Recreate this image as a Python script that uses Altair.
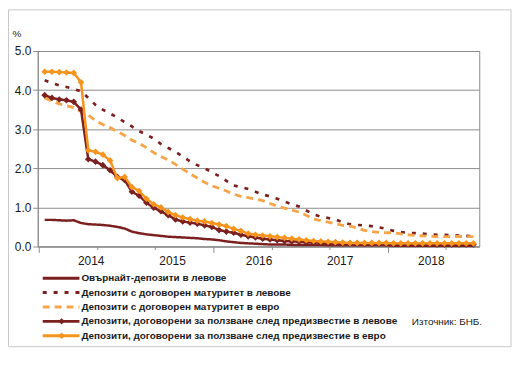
import altair as alt
import pandas as pd

series_names = [
    "Овърнайт-депозити в левове",
    "Депозити с договорен матуритет в левове",
    "Депозити с договорен матуритет в евро",
    "Депозити, договорени за ползване след предизвестие в левове",
    "Депозити, договорени за ползване след предизвестие в евро",
]
colors = ["#7b1f1f", "#7b1f1f", "#f7a548", "#7b1f1f", "#f7941d"]
dashes = [[1, 0], [4, 7], [7, 5], [1, 0], [1, 0]]
widths = [2.5, 3.2, 3.2, 2.5, 2.5]

# monthly observations, Jan 2014 - Dec 2018 (index 0..59)
overnight_bgn = [0.68, 0.68, 0.67, 0.66, 0.67, 0.60, 0.57, 0.56, 0.55, 0.53, 0.50, 0.46,
                 0.38, 0.34, 0.31, 0.29, 0.27, 0.25, 0.24, 0.23, 0.22, 0.21, 0.19, 0.18,
                 0.16, 0.13, 0.11, 0.09, 0.08, 0.07, 0.06, 0.05, 0.05, 0.05, 0.04, 0.04,
                 0.04, 0.04, 0.04, 0.03, 0.03, 0.03, 0.03, 0.03, 0.03, 0.03, 0.03, 0.03,
                 0.02, 0.02, 0.02, 0.02, 0.02, 0.02, 0.02, 0.02, 0.02, 0.02, 0.02, 0.02]
term_bgn = [4.25, 4.18, 4.12, 4.08, 4.03, 3.97, 3.80, 3.62, 3.50, 3.40, 3.30, 3.18,
            3.07, 2.95, 2.86, 2.76, 2.62, 2.52, 2.42, 2.30, 2.18, 2.08, 2.00, 1.90,
            1.80, 1.68, 1.56, 1.52, 1.47, 1.40, 1.33, 1.28, 1.22, 1.15, 1.08, 1.02,
            0.92, 0.82, 0.76, 0.73, 0.69, 0.62, 0.57, 0.55, 0.54, 0.52, 0.49, 0.45,
            0.40, 0.37, 0.35, 0.34, 0.33, 0.31, 0.30, 0.30, 0.29, 0.28, 0.27, 0.26]
term_eur = [3.80, 3.72, 3.65, 3.60, 3.55, 3.45, 3.36, 3.22, 3.12, 3.04, 2.94, 2.84,
            2.72, 2.64, 2.53, 2.40, 2.30, 2.21, 2.10, 1.98, 1.86, 1.75, 1.64, 1.55,
            1.49, 1.42, 1.34, 1.28, 1.25, 1.21, 1.17, 1.10, 1.03, 0.98, 0.93, 0.88,
            0.80, 0.70, 0.66, 0.62, 0.58, 0.54, 0.52, 0.47, 0.41, 0.38, 0.36, 0.35,
            0.35, 0.32, 0.30, 0.28, 0.27, 0.26, 0.25, 0.25, 0.25, 0.26, 0.25, 0.25]
notice_bgn = [3.87, 3.80, 3.76, 3.74, 3.70, 3.50, 2.23, 2.17, 2.08, 1.95, 1.78, 1.70,
              1.40, 1.30, 1.12, 0.99, 0.90, 0.80, 0.69, 0.64, 0.61, 0.58, 0.54, 0.50,
              0.42, 0.38, 0.35, 0.30, 0.26, 0.23, 0.20, 0.18, 0.16, 0.14, 0.13, 0.12,
              0.11, 0.10, 0.10, 0.09, 0.09, 0.08, 0.08, 0.08, 0.07, 0.07, 0.07, 0.07,
              0.06, 0.06, 0.06, 0.06, 0.06, 0.06, 0.05, 0.05, 0.05, 0.05, 0.05, 0.05]
notice_eur = [4.47, 4.47, 4.46, 4.45, 4.44, 4.20, 2.46, 2.42, 2.35, 2.20, 1.75, 1.78,
              1.52, 1.42, 1.22, 1.08, 1.00, 0.88, 0.80, 0.74, 0.70, 0.66, 0.64, 0.60,
              0.56, 0.52, 0.45, 0.40, 0.33, 0.30, 0.28, 0.26, 0.24, 0.22, 0.20, 0.18,
              0.16, 0.14, 0.13, 0.12, 0.11, 0.10, 0.09, 0.09, 0.09, 0.09, 0.09, 0.09,
              0.08, 0.08, 0.08, 0.08, 0.08, 0.08, 0.08, 0.08, 0.08, 0.08, 0.08, 0.08]

year_labels = ["2014", "2015", "2016", "2017", "2018"]
year_label_pos = [6.4, 17.6, 29.5, 40.65, 53.2]
tick_values = [-0.8 + k for k in range(61)]

all_series = [overnight_bgn, term_bgn, term_eur, notice_bgn, notice_eur]
rows = []
for name, vals in zip(series_names, all_series):
    for i, v in enumerate(vals):
        rows.append({"series": name, "idx": i, "value": v})
df = pd.DataFrame(rows)

GRAY = "#8c8c8c"
FONT = "Liberation Sans"

color_scale = alt.Scale(domain=series_names, range=colors)
dash_scale = alt.Scale(domain=series_names, range=dashes)
width_scale = alt.Scale(domain=series_names, range=widths)

x_enc = alt.X(
    "idx:Q",
    scale=alt.Scale(domain=[-0.95, 59.8], nice=False, zero=False),
    axis=alt.Axis(
        values=tick_values, labels=False, grid=False, title=None,
        domainColor=GRAY, tickColor=GRAY,
        tickSize={"condition": {"test": "round(datum.value + 0.8) % 12 == 0", "value": 6}, "value": 3},
    ),
)
y_enc = alt.Y(
    "value:Q",
    scale=alt.Scale(domain=[0, 5], nice=False),
    axis=alt.Axis(
        values=[0, 1, 2, 3, 4, 5], format=".1f", grid=True, gridColor=GRAY,
        domainColor=GRAY, tickColor=GRAY, tickSize=5, labelPadding=2,
        labelFontSize=12, labelFont=FONT, labelColor="#1a1a1a", title=None,
    ),
)

base = alt.Chart(df)

frame = alt.Chart(pd.DataFrame([{"k": 1}])).mark_rect(
    fillOpacity=0, stroke="#c8c8c8", strokeWidth=1
).encode(x=alt.value(-29.5), x2=alt.value(477), y=alt.value(-41.5), y2=alt.value(298))

plain_lines = base.transform_filter(
    alt.FieldOneOfPredicate(field="series", oneOf=series_names[:3])
).mark_line(strokeCap="butt").encode(
    x=x_enc, y=y_enc,
    color=alt.Color("series:N", scale=color_scale, legend=None),
    strokeDash=alt.StrokeDash("series:N", scale=dash_scale, legend=None),
    strokeWidth=alt.StrokeWidth("series:N", scale=width_scale, legend=None),
    detail="series:N",
)

def notice_layers(name):
    sub = base.transform_filter(alt.datum.series == name)
    ln = sub.mark_line(strokeWidth=2.5).encode(
        x=x_enc, y=y_enc,
        color=alt.Color("series:N", scale=color_scale, legend=None),
    )
    pt = sub.mark_point(shape="diamond", filled=True, size=45, opacity=1).encode(
        x=x_enc, y=y_enc,
        color=alt.Color("series:N", scale=color_scale, legend=None),
    )
    return ln + pt

years_df = pd.DataFrame({"label": year_labels, "idx": year_label_pos})
years = alt.Chart(years_df).mark_text(
    fontSize=12, font=FONT, color="#1a1a1a", baseline="middle", align="center"
).encode(x=alt.X("idx:Q"), y=alt.value(212), text="label:N")

leg_df = pd.DataFrame({"series": series_names, "ly": [229, 243.5, 258, 272.5, 287]})
leg_base = alt.Chart(leg_df)
leg_lines = leg_base.mark_rule(strokeCap="butt").encode(
    x=alt.value(5), x2=alt.value(42),
    y=alt.Y("ly:Q", scale=None, axis=None),
    color=alt.Color("series:N", scale=color_scale, legend=None),
    strokeDash=alt.StrokeDash("series:N", scale=dash_scale, legend=None),
    strokeWidth=alt.value(3),
)
leg_pts = leg_base.transform_filter(
    alt.FieldOneOfPredicate(field="series", oneOf=series_names[3:])
).mark_point(shape="diamond", filled=True, size=40, opacity=1).encode(
    x=alt.value(24), y=alt.Y("ly:Q", scale=None, axis=None),
    color=alt.Color("series:N", scale=color_scale, legend=None),
)
leg_text = leg_base.mark_text(
    align="left", baseline="middle", fontSize=10, fontWeight="bold", font=FONT, color="#1a1a1a"
).encode(x=alt.value(44), y=alt.Y("ly:Q", scale=None, axis=None), text="series:N")

pct = alt.Chart(pd.DataFrame([{"t": "%"}])).mark_text(
    fontSize=10, font=FONT, color="#1a1a1a", align="center", baseline="middle"
).encode(x=alt.value(-21), y=alt.value(-17), text="t:N")
source = alt.Chart(pd.DataFrame([{"t": "Източник: БНБ."}])).mark_text(
    fontSize=10, font=FONT, color="#1a1a1a", align="left", baseline="middle"
).encode(x=alt.value(377), y=alt.value(273), text="t:N")

chart = alt.layer(
    frame, plain_lines,
    notice_layers(series_names[3]), notice_layers(series_names[4]),
    years, leg_lines, leg_pts, leg_text, pct, source,
).properties(
    width=445, height=197,
    autosize=alt.AutoSizeParams(type="none"),
    padding={"left": 30, "top": 42, "right": 34, "bottom": 103},
    background="white",
).configure_view(stroke=GRAY, strokeWidth=1)

chart.save("out.html", embed_options={"renderer": "svg", "actions": False})
